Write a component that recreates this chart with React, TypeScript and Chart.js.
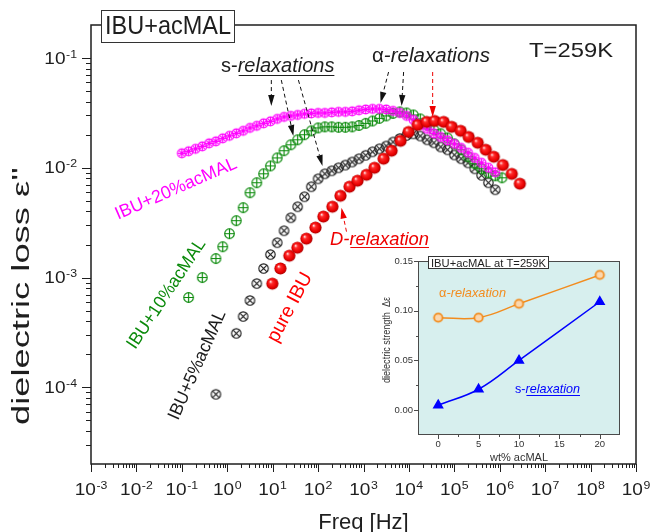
import React, { useEffect, useRef } from 'react';
import { Chart, registerables } from 'chart.js';

Chart.register(...registerables);

const FONT = '"Liberation Sans", Arial, Helvetica, sans-serif';

// ---- main plot data (frequency in Hz, dielectric loss) ----
const FREQ = [
  0.1, 0.141, 0.2, 0.282, 0.398, 0.562, 0.794,
  1.12, 1.58, 2.24, 3.16, 4.47, 6.31, 8.91,
  12.6, 17.8, 25.1, 35.5, 50.1, 70.8, 100,
  141, 200, 282, 398, 562, 794, 1120,
  1580, 2240, 3160, 4470, 6310, 8910, 12600,
  17800, 25100, 35500, 50100, 70800, 100000, 141000,
  200000, 282000, 398000, 562000, 794000, 1120000,
];

const EPS_20 = [
  0.01355, 0.01413, 0.01489, 0.01569, 0.01671, 0.01741, 0.01854,
  0.01954, 0.0206, 0.0217, 0.0231, 0.0241, 0.0254, 0.0265,
  0.0279, 0.0291, 0.0297, 0.0303, 0.031, 0.0313, 0.0316,
  0.0316, 0.032, 0.0323, 0.0323, 0.0327, 0.0334, 0.034,
  0.0344, 0.0344, 0.034, 0.033, 0.0316, 0.0297, 0.0273,
  0.0246, 0.0226, 0.0206, 0.0191, 0.0178, 0.0165, 0.0152,
  0.0137, 0.0123, 0.0111, 0.01, 0.0091, null,
];

const EPS_10 = [
  null, 0.000658, null, 0.001, null, 0.00149, 0.00191,
  0.00251, 0.0033, 0.00433, 0.00593, 0.00731, 0.00882, 0.0104,
  0.0123, 0.0143, 0.0162, 0.018, 0.02, 0.0217, 0.0231,
  0.0236, 0.0236, 0.0234, 0.0234, 0.0236, 0.0243, 0.0254,
  0.0267, 0.0282, 0.0297, 0.0313, 0.0323, 0.0316, 0.0303,
  0.0279, 0.0246, 0.0222, 0.0204, 0.0187, 0.0165, 0.0146,
  0.0126, 0.0109, 0.0098, 0.009, 0.00846, 0.00811,
];

const EPS_5 = [
  null, null, null, null, null, 0.0000863, null,
  null, 0.00031, 0.000442, 0.000618, 0.000882, 0.00121, 0.00162,
  0.00208, 0.00267, 0.00351, 0.00442, 0.00545, 0.00672, 0.00794,
  0.00882, 0.00939, 0.01, 0.0106, 0.0113, 0.0121, 0.013,
  0.014, 0.0149, 0.0158, 0.0172, 0.0185, 0.0197, 0.0204,
  0.0195, 0.018, 0.0169, 0.0155, 0.0146, 0.0131, 0.0121,
  0.0111, 0.0098, 0.00855, 0.00731, 0.00631, null,
];

const FREQ_PURE = [
  9.84, 14.8, 23.3, 35.1, 55.3, 87.5, 131, 207, 311, 492,
  738, 1167, 1750, 2767, 4150, 6560, 9840, 15560, 24550, 36900,
  58200, 87500, 138000, 207000, 327000, 492000, 738000, 1170000, 1840000, 2770000,
];
const EPS_PURE = [
  0.00088, 0.00121, 0.00158, 0.00187, 0.00226, 0.00285, 0.00359, 0.00442, 0.00556, 0.00672,
  0.00762, 0.00863, 0.01, 0.0121, 0.0143, 0.0176, 0.0212, 0.0246, 0.0262, 0.0267,
  0.0262, 0.0236, 0.0217, 0.0191, 0.0169, 0.0146, 0.0126, 0.0106, 0.0088, 0.00716,
];

const X_EXPONENTS = [-3, -2, -1, 0, 1, 2, 3, 4, 5, 6, 7, 8, 9];
const Y_EXPONENTS = [-4, -3, -2, -1];

// arrows (data coordinates: freq, eps)
const ARROWS = [
  { f1: 9.35, e1: 0.063, f2: 9.35, e2: 0.0366, color: '#111111' },
  { f1: 15.5, e1: 0.063, f2: 28.6, e2: 0.0195, color: '#111111' },
  { f1: 36.9, e1: 0.063, f2: 125, e2: 0.0104, color: '#111111' },
  { f1: 3565, e1: 0.0746, f2: 2372, e2: 0.039, color: '#111111' },
  { f1: 7640, e1: 0.0746, f2: 6900, e2: 0.0366, color: '#111111' },
  { f1: 33340, e1: 0.0746, f2: 33340, e2: 0.0291, color: '#ee0000' },
  { f1: 422, e1: 0.00262, f2: 327, e2: 0.00433, color: '#ee0000' },
];

// ---- inset data ----
const WT = [0, 5, 10, 20];
const DS_ALPHA = [0.093, 0.093, 0.107, 0.136];
const DS_S = [0.005, 0.021, 0.05, 0.109];
const INSET_X_TICKS = [0, 5, 10, 15, 20];
const INSET_Y_TICKS = [0, 0.05, 0.1, 0.15];

type Pt = { x: number; y: number };
function toPoints(xs: number[], ys: (number | null)[]): Pt[] {
  const out: Pt[] = [];
  xs.forEach((x, i) => {
    const y = ys[i];
    if (y != null) out.push({ x, y });
  });
  return out;
}

function makeMarker(kind: string): HTMLCanvasElement {
  const c = document.createElement('canvas');
  const S = kind === 'pure' ? 15 : 13;
  c.width = S;
  c.height = S;
  const g = c.getContext('2d') as CanvasRenderingContext2D;
  const m = S / 2;
  if (kind === 'pure') {
    const r = 6.1;
    const gr = g.createRadialGradient(m - 2, m - 2.2, 0.2, m, m, r);
    gr.addColorStop(0, '#ffecec');
    gr.addColorStop(0.28, '#ff2a2a');
    gr.addColorStop(0.75, '#e80000');
    gr.addColorStop(1, '#a80000');
    g.fillStyle = gr;
    g.beginPath();
    g.arc(m, m, r, 0, Math.PI * 2);
    g.fill();
    return c;
  }
  if (kind === 'orange') {
    const r = 4.2;
    g.fillStyle = '#fbd7ae';
    g.strokeStyle = '#f28c1e';
    g.lineWidth = 1.8;
    g.beginPath();
    g.arc(m, m, r, 0, Math.PI * 2);
    g.fill();
    g.stroke();
    return c;
  }
  const color = kind === 'p5' ? '#1a1a1a' : kind === 'p10' ? '#0b8a0b' : '#ff00ff';
  const r = kind === 'p20' ? 4.4 : kind === 'p10' ? 4.8 : 4.7;
  g.strokeStyle = color;
  g.lineWidth = 1.15;
  g.beginPath();
  g.arc(m, m, r, 0, Math.PI * 2);
  g.stroke();
  g.beginPath();
  if (kind !== 'p10') {
    const d = r * 0.7071;
    g.moveTo(m - d, m - d);
    g.lineTo(m + d, m + d);
    g.moveTo(m - d, m + d);
    g.lineTo(m + d, m - d);
  }
  if (kind !== 'p5') {
    g.moveTo(m - r, m);
    g.lineTo(m + r, m);
    g.moveTo(m, m - r);
    g.lineTo(m, m + r);
  }
  g.stroke();
  return c;
}

type Part = { t: string; italic?: boolean; underline?: boolean };
function drawParts(ctx: any, parts: Part[], x: number, y: number, size: number, color: string, target?: number) {
  ctx.save();
  let natural = 0;
  parts.forEach((p) => {
    ctx.font = `${p.italic ? 'italic ' : ''}${size}px ${FONT}`;
    natural += ctx.measureText(p.t).width;
  });
  const sx = target ? target / natural : 1;
  ctx.translate(x, y);
  ctx.scale(sx, 1);
  ctx.fillStyle = color;
  ctx.strokeStyle = color;
  ctx.textAlign = 'left';
  ctx.textBaseline = 'alphabetic';
  let cx = 0;
  parts.forEach((p) => {
    ctx.font = `${p.italic ? 'italic ' : ''}${size}px ${FONT}`;
    const w = ctx.measureText(p.t).width;
    ctx.fillText(p.t, cx, 0);
    if (p.underline) {
      const uy = Math.max(2, Math.round(size * 0.13)) + 0.5;
      ctx.lineWidth = 1;
      ctx.beginPath();
      ctx.moveTo(cx + 1, uy);
      ctx.lineTo(cx + w, uy);
      ctx.stroke();
    }
    cx += w;
  });
  ctx.restore();
}

function drawRotated(ctx: any, text: string, cx: number, cy: number, deg: number, size: number, color: string, target?: number) {
  ctx.save();
  ctx.translate(cx, cy);
  ctx.rotate((-deg * Math.PI) / 180);
  ctx.font = `${size}px ${FONT}`;
  if (target) {
    const w = ctx.measureText(text).width;
    ctx.scale(target / w, 1);
  }
  ctx.fillStyle = color;
  ctx.textAlign = 'center';
  ctx.textBaseline = 'middle';
  ctx.fillText(text, 0, 0);
  ctx.restore();
}

const SX = 1.12;
function powWidth(ctx: any, e: number) {
  ctx.font = `17px ${FONT}`;
  const a = ctx.measureText('10').width;
  ctx.font = `11px ${FONT}`;
  const b = ctx.measureText(String(e)).width;
  return (a + 0.5 + b) * SX;
}
function drawPow(ctx: any, x: number, y: number, e: number) {
  ctx.save();
  ctx.translate(x, y);
  ctx.scale(SX, 1);
  ctx.textAlign = 'left';
  ctx.textBaseline = 'alphabetic';
  ctx.font = `17px ${FONT}`;
  ctx.fillText('10', 0, 0);
  const a = ctx.measureText('10').width;
  ctx.font = `11px ${FONT}`;
  ctx.fillText(String(e), a + 0.5, -6);
  ctx.restore();
}

function drawArrow(ctx: any, x1: number, y1: number, x2: number, y2: number, color: string) {
  const ang = Math.atan2(y2 - y1, x2 - x1);
  const hl = 11;
  const hw = 3.2;
  const bx = x2 - hl * Math.cos(ang);
  const by = y2 - hl * Math.sin(ang);
  ctx.save();
  ctx.strokeStyle = color;
  ctx.fillStyle = color;
  ctx.lineWidth = 1;
  ctx.setLineDash([4, 3]);
  ctx.beginPath();
  ctx.moveTo(x1, y1);
  ctx.lineTo(bx, by);
  ctx.stroke();
  ctx.setLineDash([]);
  ctx.beginPath();
  ctx.moveTo(x2, y2);
  ctx.lineTo(bx + hw * Math.sin(ang), by - hw * Math.cos(ang));
  ctx.lineTo(bx - hw * Math.sin(ang), by + hw * Math.cos(ang));
  ctx.closePath();
  ctx.fill();
  ctx.restore();
}

const mainDecor = {
  id: 'mainDecor',
  afterDraw(chart: any) {
    const { ctx, chartArea: a } = chart;
    const sx = chart.scales.x;
    const sy = chart.scales.y;
    ctx.save();

    ARROWS.forEach((ar) =>
      drawArrow(
        ctx,
        sx.getPixelForValue(ar.f1),
        sy.getPixelForValue(ar.e1),
        sx.getPixelForValue(ar.f2),
        sy.getPixelForValue(ar.e2),
        ar.color
      )
    );

    // frame
    ctx.strokeStyle = '#1e1e1e';
    ctx.lineWidth = 1.5;
    ctx.setLineDash([]);
    ctx.strokeRect(a.left, a.top, a.right - a.left, a.bottom - a.top);

    // ticks
    ctx.lineWidth = 1;
    ctx.beginPath();
    const lastX = X_EXPONENTS[X_EXPONENTS.length - 1];
    X_EXPONENTS.forEach((e) => {
      const base = Math.pow(10, e);
      const p = Math.round(sx.getPixelForValue(base)) + 0.5;
      ctx.moveTo(p, a.bottom);
      ctx.lineTo(p, a.bottom + 8);
      if (e < lastX) {
        for (let m = 2; m <= 9; m++) {
          const q = Math.round(sx.getPixelForValue(m * base)) + 0.5;
          ctx.moveTo(q, a.bottom);
          ctx.lineTo(q, a.bottom + 4);
        }
      }
    });
    for (let e = Y_EXPONENTS[0] - 1; e <= Y_EXPONENTS[Y_EXPONENTS.length - 1]; e++) {
      const base = Math.pow(10, e);
      for (let m = 1; m <= 9; m++) {
        const v = m * base;
        if (v < sy.min * 1.001 || v > sy.max * 0.999) continue;
        const q = Math.round(sy.getPixelForValue(v)) + 0.5;
        const len = m === 1 ? 9 : 5;
        ctx.moveTo(a.left, q);
        ctx.lineTo(a.left - len, q);
      }
    }
    ctx.stroke();

    // tick labels
    ctx.fillStyle = '#1e1e1e';
    X_EXPONENTS.forEach((e) => {
      const p = sx.getPixelForValue(Math.pow(10, e));
      const w = powWidth(ctx, e);
      drawPow(ctx, p - w / 2, a.bottom + 31, e);
    });
    Y_EXPONENTS.forEach((e) => {
      const p = sy.getPixelForValue(Math.pow(10, e));
      const w = powWidth(ctx, e);
      drawPow(ctx, a.left - 14 - w, p + 5.5, e);
    });

    // axis titles
    ctx.font = `22px ${FONT}`;
    ctx.textAlign = 'center';
    ctx.textBaseline = 'alphabetic';
    ctx.fillText('Freq [Hz]', (a.left + a.right) / 2, 529);
    drawRotated(ctx, "dielectric loss \u03b5''", 22.5, 296, 90, 23, '#1e1e1e', 258);

    // annotations
    drawParts(ctx, [{ t: 'T=259K' }], 529, 57, 21, '#1e1e1e', 84);
    drawParts(ctx, [{ t: 's-' }, { t: 'relaxations', italic: true, underline: true }], 221, 72, 20, '#1e1e1e');
    drawParts(ctx, [{ t: '\u03b1' }, { t: '-relaxations', italic: true }], 372, 62, 20, '#1e1e1e', 118);
    drawParts(ctx, [{ t: 'D-', italic: true }, { t: 'relaxation', italic: true, underline: true }], 330, 245, 19, '#ee0000', 99);

    // series labels
    drawRotated(ctx, 'IBU+20%acMAL', 176, 189, 23.5, 18, '#ff00ff', 131);
    drawRotated(ctx, 'IBU+10%acMAL', 166.5, 294, 56.5, 18, '#0b8a0b', 128);
    drawRotated(ctx, 'IBU+5%acMAL', 197.5, 365, 66, 18, '#1a1a1a', 118);
    drawRotated(ctx, 'pure IBU', 290, 307.5, 62, 19.5, '#ff0000', 76);

    // title box
    ctx.fillStyle = '#ffffff';
    ctx.fillRect(101, 10, 134, 33);
    ctx.strokeStyle = '#333333';
    ctx.lineWidth = 1;
    ctx.strokeRect(101.5, 10.5, 133, 32);
    drawParts(ctx, [{ t: 'IBU+acMAL' }], 105, 34, 25, '#1e1e1e', 126);

    ctx.restore();
  },
};

const insetDecor = {
  id: 'insetDecor',
  beforeDraw(chart: any) {
    const { ctx, chartArea: a } = chart;
    ctx.save();
    ctx.fillStyle = '#d7efee';
    ctx.fillRect(a.left, a.top, a.right - a.left, a.bottom - a.top);
    ctx.restore();
  },
  afterDraw(chart: any) {
    const { ctx, chartArea: a } = chart;
    const sx = chart.scales.x;
    const sy = chart.scales.y;
    ctx.save();
    ctx.strokeStyle = '#4a4a4a';
    ctx.lineWidth = 1;
    ctx.strokeRect(a.left + 0.5, a.top + 0.5, a.right - a.left - 1, a.bottom - a.top - 1);

    ctx.beginPath();
    INSET_X_TICKS.forEach((t) => {
      const p = Math.round(sx.getPixelForValue(t)) + 0.5;
      ctx.moveTo(p, a.bottom);
      ctx.lineTo(p, a.bottom + 4);
      [t - 2.5, t + 2.5].forEach((mv) => {
        if (mv <= sx.min || mv >= sx.max) return;
        const q = Math.round(sx.getPixelForValue(mv)) + 0.5;
        ctx.moveTo(q, a.bottom);
        ctx.lineTo(q, a.bottom + 2);
      });
    });
    INSET_Y_TICKS.forEach((t) => {
      const p = Math.round(sy.getPixelForValue(t)) + 0.5;
      ctx.moveTo(a.left, p);
      ctx.lineTo(a.left - 4, p);
      const mv = t - 0.025;
      if (mv > sy.min) {
        const q = Math.round(sy.getPixelForValue(mv)) + 0.5;
        ctx.moveTo(a.left, q);
        ctx.lineTo(a.left - 2, q);
      }
    });
    ctx.stroke();

    ctx.fillStyle = '#333333';
    ctx.font = `9.5px ${FONT}`;
    ctx.textAlign = 'center';
    ctx.textBaseline = 'alphabetic';
    INSET_X_TICKS.forEach((t) => ctx.fillText(String(t), sx.getPixelForValue(t), a.bottom + 12));
    ctx.textAlign = 'right';
    ctx.textBaseline = 'middle';
    INSET_Y_TICKS.forEach((t) => ctx.fillText(t.toFixed(2), a.left - 5, sy.getPixelForValue(t)));

    ctx.textAlign = 'center';
    ctx.textBaseline = 'alphabetic';
    ctx.font = `11px ${FONT}`;
    ctx.fillText('wt% acMAL', (a.left + a.right) / 2, a.bottom + 26);
    drawRotated(ctx, 'dielectric strength  \u0394\u03b5', 27, 92, 90, 10.5, '#333333', 86);

    drawParts(ctx, [{ t: '\u03b1' }, { t: '-relaxation', italic: true }], a.left + 21, a.top + 36, 13, '#f28c1e', 67);
    drawParts(ctx, [{ t: 's-' }, { t: 'relaxation', italic: true, underline: true }], a.left + 97, a.top + 132, 13, '#0000ff', 65);

    // title box
    ctx.fillStyle = '#ffffff';
    ctx.fillRect(68, 8, 121, 13);
    ctx.strokeStyle = '#333333';
    ctx.strokeRect(68.5, 8.5, 120, 12);
    drawParts(ctx, [{ t: 'IBU+acMAL at T=259K' }], 71, 18.5, 11, '#1e1e1e', 115);
    ctx.restore();
  },
};

export default function App() {
  const mainRef = useRef<HTMLCanvasElement>(null);
  const insetRef = useRef<HTMLCanvasElement>(null);

  useEffect(() => {
    const mk = {
      pure: makeMarker('pure'),
      p5: makeMarker('p5'),
      p10: makeMarker('p10'),
      p20: makeMarker('p20'),
      orange: makeMarker('orange'),
    };

    const main = new Chart(mainRef.current as HTMLCanvasElement, {
      type: 'scatter',
      data: {
        datasets: [
          { label: 'pure IBU', data: toPoints(FREQ_PURE, EPS_PURE), pointStyle: mk.pure as any, pointRadius: 6 },
          { label: 'IBU+20%acMAL', data: toPoints(FREQ, EPS_20), pointStyle: mk.p20 as any, pointRadius: 5 },
          { label: 'IBU+10%acMAL', data: toPoints(FREQ, EPS_10), pointStyle: mk.p10 as any, pointRadius: 5 },
          { label: 'IBU+5%acMAL', data: toPoints(FREQ, EPS_5), pointStyle: mk.p5 as any, pointRadius: 5 },
        ],
      },
      options: {
        animation: false,
        responsive: false,
        maintainAspectRatio: false,
        layout: { padding: { left: 0, top: 25, right: 15, bottom: 0 } },
        plugins: { legend: { display: false }, tooltip: { enabled: false } },
        scales: {
          x: {
            type: 'logarithmic',
            min: 1e-3,
            max: 1e9,
            grid: { display: false, drawTicks: false },
            border: { display: false },
            ticks: { display: false },
            afterFit: (s: any) => {
              s.height = 68;
            },
          },
          y: {
            type: 'logarithmic',
            min: 2e-5,
            max: 0.2,
            grid: { display: false, drawTicks: false },
            border: { display: false },
            ticks: { display: false },
            afterFit: (s: any) => {
              s.width = 91;
            },
          },
        },
      } as any,
      plugins: [mainDecor],
    });

    const inset = new Chart(insetRef.current as HTMLCanvasElement, {
      type: 'scatter',
      data: {
        datasets: [
          {
            label: 'alpha',
            data: toPoints(WT, DS_ALPHA),
            showLine: true,
            borderColor: '#f28c1e',
            borderWidth: 1.5,
            tension: 0.4,
            pointStyle: mk.orange as any,
            pointRadius: 4,
          },
          {
            label: 's',
            data: toPoints(WT, DS_S),
            showLine: true,
            borderColor: '#0000ff',
            borderWidth: 1.5,
            tension: 0.4,
            pointStyle: 'triangle',
            pointRadius: 5,
            pointBackgroundColor: '#0000ff',
            pointBorderColor: '#0000ff',
          },
        ],
      },
      options: {
        animation: false,
        responsive: false,
        maintainAspectRatio: false,
        layout: { padding: { left: 0, top: 13, right: 16, bottom: 0 } },
        plugins: { legend: { display: false }, tooltip: { enabled: false } },
        scales: {
          x: {
            type: 'linear',
            min: -2.5,
            max: 22.5,
            grid: { display: false, drawTicks: false },
            border: { display: false },
            ticks: { display: false },
            afterFit: (s: any) => {
              s.height = 33;
            },
          },
          y: {
            type: 'linear',
            min: -0.025,
            max: 0.15,
            grid: { display: false, drawTicks: false },
            border: { display: false },
            ticks: { display: false },
            afterFit: (s: any) => {
              s.width = 58;
            },
          },
        },
      } as any,
      plugins: [insetDecor],
    });

    return () => {
      main.destroy();
      inset.destroy();
    };
  }, []);

  return (
    <div style={{ position: 'fixed', left: 0, top: 0, width: 651, height: 532, background: '#ffffff' }}>
      <canvas
        ref={mainRef}
        width={651}
        height={532}
        style={{ position: 'absolute', left: 0, top: 0, width: 651, height: 532 }}
      />
      <canvas
        ref={insetRef}
        width={276}
        height={220}
        style={{ position: 'absolute', left: 360, top: 248, width: 276, height: 220 }}
      />
    </div>
  );
}
